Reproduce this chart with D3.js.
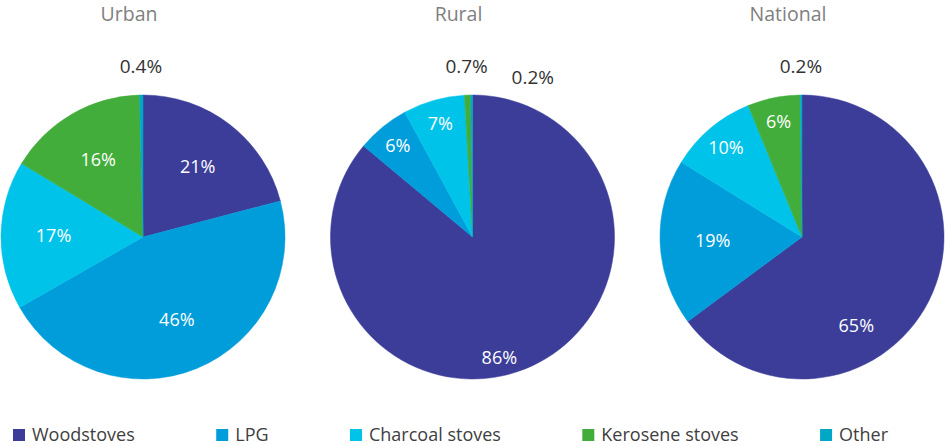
<!DOCTYPE html>
<html>
<head>
<meta charset="utf-8">
<script src="https://cdn.jsdelivr.net/npm/d3@7"></script>
<style>
  html, body { margin: 0; padding: 0; background: #fff; }
  svg { display: block; font-family: "Open Sans", sans-serif; }
</style>
</head>
<body>
<svg id="chart" width="948" height="446"></svg>
<script>
// ---- data ----
const categories = ["Woodstoves", "LPG", "Charcoal stoves", "Kerosene stoves", "Other"];
const regions = ["Urban", "Rural", "National"];
const urbanValues = [21, 46, 17, 16, 0.4];
const ruralValues = [86, 6, 7, 0.7, 0.2];
const nationalValues = [65, 19, 10, 6, 0.2];
const colors = ["#3B3D99", "#009DDB", "#00C3EA", "#42AD3B", "#00A8C5"];

const seriesByRegion = { Urban: urbanValues, Rural: ruralValues, National: nationalValues };

// ---- layout ----
const W = 948, H = 446;
const R = 142;
const cy = 237;
const svg = d3.select("#chart");

const xScale = d3.scalePoint().domain(regions).range([143, 802]);
const color = d3.scaleOrdinal().domain(categories).range(colors);
const fmt = v => (v < 1 ? d3.format(".1f")(v) : d3.format("d")(v)) + "%";

const pie = d3.pie().sort(null).value(d => d.value);
const arc = d3.arc().innerRadius(0).outerRadius(R);

regions.forEach(region => {
  const cx = xScale(region);
  const vals = seriesByRegion[region];
  const data = categories.map((c, i) => ({ cat: c, value: vals[i] }));
  const total = d3.sum(vals);
  const g = svg.append("g").attr("transform", `translate(${cx},${cy})`);

  // title
  svg.append("text")
    .attr("x", cx - 14).attr("y", 21)
    .attr("text-anchor", "middle")
    .attr("font-size", 19.5)
    .attr("fill", "#808080")
    .text(region);

  const arcs = pie(data);
  g.selectAll("path.slice").data(arcs).enter().append("path")
    .attr("class", "slice")
    .attr("d", arc)
    .attr("fill", d => color(d.data.cat))
    .attr("stroke", d => color(d.data.cat))
    .attr("stroke-width", 0.5);

  // labels
  const placed = [];
  arcs.forEach(d => {
    const p = d.data.value / total;
    let ang = (d.startAngle + d.endAngle) / 2;
    let r, outside = false;
    if (d.data.value < 1) {
      r = R + 29; outside = true;
    } else if (p > 0.5) {
      ang = (ang + Math.PI) / 2;
      r = R * (0.63 + (p - 0.5) * 0.67);
    } else if (p <= 0.105) {
      r = R * 0.83;
    } else {
      r = R * 0.63;
    }
    let x = r * Math.sin(ang), y = -r * Math.cos(ang);
    if (outside) {
      let guard = 0;
      while (placed.some(q => Math.abs(q.x - x) < 66 && Math.abs(q.y - y) < 22) && guard < 90) {
        ang += Math.PI / 180;
        x = r * Math.sin(ang); y = -r * Math.cos(ang);
        guard++;
      }
      placed.push({ x, y });
    }
    g.append("text")
      .attr("x", x).attr("y", y)
      .attr("dy", "0.36em")
      .attr("text-anchor", "middle")
      .attr("font-size", outside ? 19 : 18)
      .attr("fill", outside ? "#333333" : "#ffffff")
      .text(fmt(d.data.value));
  });
});

// ---- legend ----
const legend = svg.append("g").attr("class", "legend");
const items = legend.selectAll("g").data(categories).enter().append("g");
items.append("rect").attr("width", 12).attr("height", 12).attr("y", 429)
  .attr("fill", d => color(d));
items.append("text").attr("x", 19).attr("y", 441)
  .attr("font-size", 18).attr("fill", "#404040").text(d => d);

const widths = [];
items.each(function () { widths.push(19 + d3.select(this).select("text").node().getComputedTextLength()); });
const startX = 13, endX = 888;
const gap = (endX - startX - d3.sum(widths)) / (categories.length - 1);
let cur = startX;
items.each(function (d, i) {
  d3.select(this).attr("transform", `translate(${cur},0)`);
  cur += widths[i] + gap;
});
</script>
</body>
</html>
